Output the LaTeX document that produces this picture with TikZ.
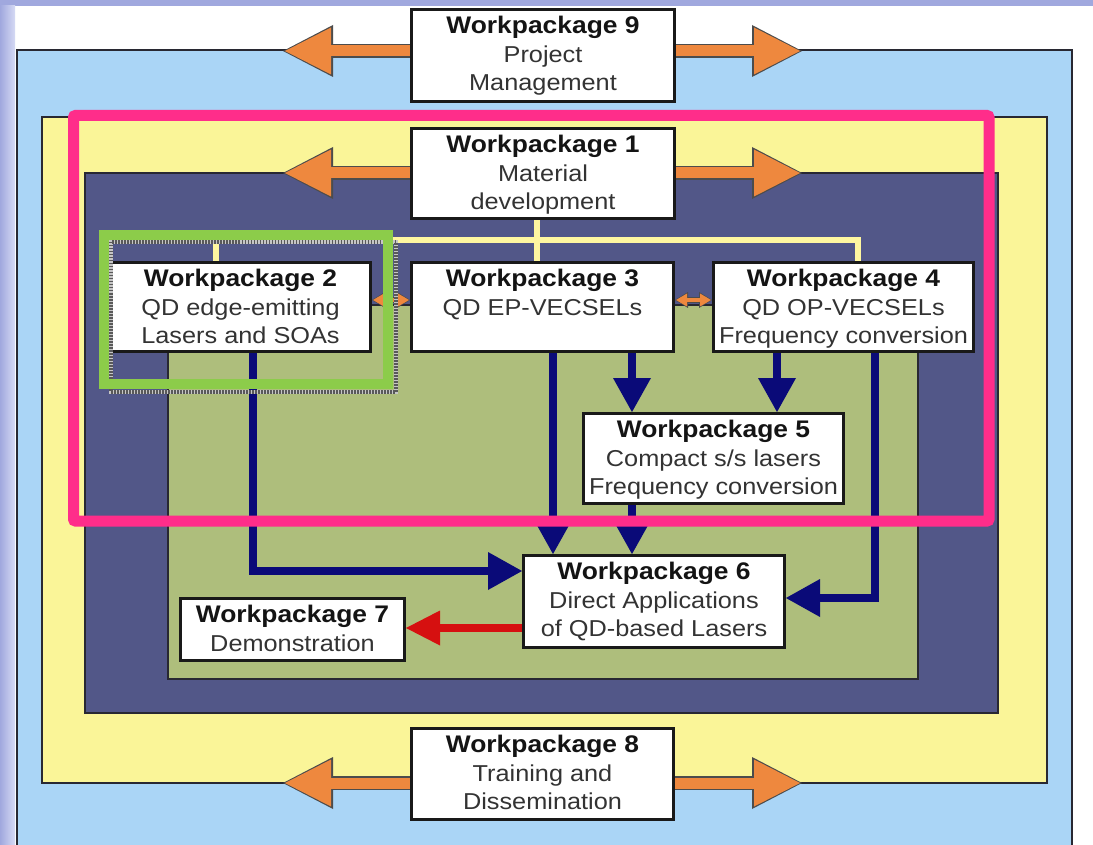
\documentclass[tikz,border=0pt]{standalone}
\usepackage{fontspec}
\setmainfont{Liberation Sans}[FakeStretch=1.1]
\usetikzlibrary{arrows.meta,calc}
\pgfdeclarelayer{back}
\pgfdeclarelayer{mid}
\pgfdeclarelayer{front}
\pgfsetlayers{back,mid,main,front}
\definecolor{lavD}{RGB}{160,168,222}
\definecolor{lavL}{RGB}{214,218,244}
\definecolor{skyc}{RGB}{170,213,246}
\definecolor{yelc}{RGB}{250,245,152}
\definecolor{navc}{RGB}{82,87,136}
\definecolor{olvc}{RGB}{174,190,124}
\definecolor{orgc}{RGB}{238,136,62}
\definecolor{arrc}{RGB}{10,10,120}
\definecolor{redc}{RGB}{214,16,16}
\definecolor{pinkc}{RGB}{255,45,138}
\definecolor{grnc}{RGB}{140,204,74}
\definecolor{ylnc}{RGB}{255,247,160}
\definecolor{edgec}{RGB}{40,40,50}
\newcommand{\wphead}[1]{{\fontsize{24}{28.5}\selectfont\bfseries\color{black!92}#1}}
\begin{document}
\begin{tikzpicture}[x=1pt,y=-1pt,
  wpbox/.style={draw=black!90,line width=3pt,fill=white,inner sep=0pt},
  wptext/.style={anchor=north,inner sep=0pt,align=center,font=\fontsize{23}{28.5}\selectfont,text=black!80},
  panel/.style={draw=edgec,line width=1.5pt},
  oback/.style={draw=black!70,line width=14pt,-{Triangle[length=50pt,width=52pt,line width=0pt]}},
  ofront/.style={draw=orgc,line width=11pt,-{Triangle[length=46pt,width=47pt,line width=0pt]},shorten >=2pt},
  sback/.style={draw=black!70,line width=5.5pt,{Triangle[length=13pt,width=16pt,line width=0pt]}-{Triangle[length=13pt,width=16pt,line width=0pt]}},
  sfront/.style={draw=orgc,line width=3.5pt,{Triangle[length=11pt,width=13pt,line width=0pt]}-{Triangle[length=11pt,width=13pt,line width=0pt]},shorten >=1pt,shorten <=1pt},
  narr/.style={draw=arrc,line width=8pt,-{Triangle[length=34pt,width=38pt,line width=0pt]}},
  rarr/.style={draw=redc,line width=8pt,-{Triangle[length=34pt,width=35pt,line width=0pt]}},
  yline/.style={draw=ylnc,line width=6pt},
]
\useasboundingbox (0,0) rectangle (1093,845);

% boxes
\node[wpbox,minimum width=263pt,minimum height=92pt] (wp9) at (543,55.5) {};
\node[wpbox,minimum width=263pt,minimum height=90pt] (wp1) at (543,173.5) {};
\node[wpbox,minimum width=260pt,minimum height=89pt] (wp2) at (240.5,307) {};
\node[wpbox,minimum width=262pt,minimum height=89pt] (wp3) at (542.5,307) {};
\node[wpbox,minimum width=260pt,minimum height=89pt] (wp4) at (843.5,307) {};
\node[wpbox,minimum width=260pt,minimum height=90pt] (wp5) at (713.5,458.5) {};
\node[wpbox,minimum width=261pt,minimum height=92pt] (wp6) at (654,601.5) {};
\node[wpbox,minimum width=224pt,minimum height=62pt] (wp7) at (292.5,629.5) {};
\node[wpbox,minimum width=262pt,minimum height=91pt] (wp8) at (542.5,774) {};

% texts
\node[wptext] (x9) at ($(wp9.north)+(0,8)$) {\wphead{Workpackage 9}\\Project\\Management};
\node[wptext] (x1) at ($(wp1.north)+(0,8)$) {\wphead{Workpackage 1}\\Material\\development};
\node[wptext] (x2) at ($(wp2.north)+(0,8)$) {\wphead{Workpackage 2}\\QD edge-emitting\\Lasers and SOAs};
\node[wptext] (x3) at ($(wp3.north)+(0,8)$) {\wphead{Workpackage 3}\\QD EP-VECSELs};
\node[wptext] (x4) at ($(wp4.north)+(0,8)$) {\wphead{Workpackage 4}\\QD OP-VECSELs\\Frequency conversion};
\node[wptext] (x5) at ($(wp5.north)+(0,8)$) {\wphead{Workpackage 5}\\Compact s/s lasers\\Frequency conversion};
\node[wptext] (x6) at ($(wp6.north)+(0,8)$) {\wphead{Workpackage 6}\\Direct Applications\\of QD-based Lasers};
\node[wptext] (x7) at ($(wp7.north)+(0,8)$) {\wphead{Workpackage 7}\\Demonstration};
\node[wptext] (x8) at ($(wp8.north)+(0,8)$) {\wphead{Workpackage 8}\\Training and\\Dissemination};

% free ends
\coordinate (t9l) at (283,51);
\coordinate (t9r) at (802,51);
\coordinate (t1l) at (283,173);
\coordinate (t1r) at (802,173);
\coordinate (t8l) at (283,783);
\coordinate (t8r) at (802,783);
\coordinate (yl) at (216,240);
\coordinate (yr) at (858,240);
\coordinate (yc) at (537,240);
\coordinate (sy) at (0,300);
\coordinate (a2) at (253,571);
\coordinate (a3) at (553,0);
\coordinate (a5) at (632,0);
\coordinate (a4) at (777,0);
\coordinate (a6) at (875,598);
\coordinate (r7) at (0,628);

\begin{pgfonlayer}{back}
\fill[lavD] (0,0) rectangle (1093,845);
\fill[white] (15,6) rectangle (1093,845);
\shade[left color=lavD,right color=lavL] (0,6) rectangle (15,845);
\draw[panel,fill=skyc] (17,50) rectangle (1072,850);
\draw[panel,fill=yelc] (42,117) rectangle (1047,783);
\draw[panel,fill=navc] (85,173) rectangle (998,713);
\draw[panel,fill=olvc] (168,305) rectangle (918,679);
\end{pgfonlayer}

\begin{pgfonlayer}{mid}
% yellow links
\draw[yline] (wp2.north -| yl) -- (yl) -- (yr) -- (wp4.north -| yr);
\draw[yline] (wp1.south -| yc) -- (wp3.north -| yc);
% orange arrows
\foreach \b/\s/\t in {wp9/west/t9l,wp9/east/t9r,wp1/west/t1l,wp1/east/t1r,wp8/west/t8l,wp8/east/t8r}{
  \draw[oback] (\b.\s |- \t) -- (\t);
  \draw[ofront] (\b.\s |- \t) -- (\t);
}
% small double arrows
\draw[sback] (wp2.east |- sy) -- (wp3.west |- sy);
\draw[sfront] (wp2.east |- sy) -- (wp3.west |- sy);
\draw[sback] (wp3.east |- sy) -- (wp4.west |- sy);
\draw[sfront] (wp3.east |- sy) -- (wp4.west |- sy);
% navy arrows
\draw[narr] (wp2.south -| a2) |- (wp6.west |- a2);
\draw[narr] (wp3.south -| a3) -- (wp6.north -| a3);
\draw[narr] (wp3.south -| a5) -- (wp5.north -| a5);
\draw[narr] (wp4.south -| a4) -- (wp5.north -| a4);
\draw[narr] (wp5.south -| a5) -- (wp6.north -| a5);
\draw[narr] (wp4.south -| a6) |- (wp6.east |- a6);
% red arrow
\draw[rarr] (wp6.west |- r7) -- (wp7.east |- r7);
\end{pgfonlayer}

\begin{pgfonlayer}{front}
\draw[line width=4.5pt,draw=gray!45] (111,242) rectangle (396,392);
\draw[line width=4.5pt,draw=black!65,dash pattern=on 1.5pt off 1.5pt] (111,242) rectangle (396,392);
\draw[line width=10pt,draw=grnc] (104,235) rectangle (388,384);
\draw[line width=11pt,draw=pinkc,rounded corners=2pt] (73.5,115.5) rectangle (989,521);
\end{pgfonlayer}
\end{tikzpicture}
\end{document}
